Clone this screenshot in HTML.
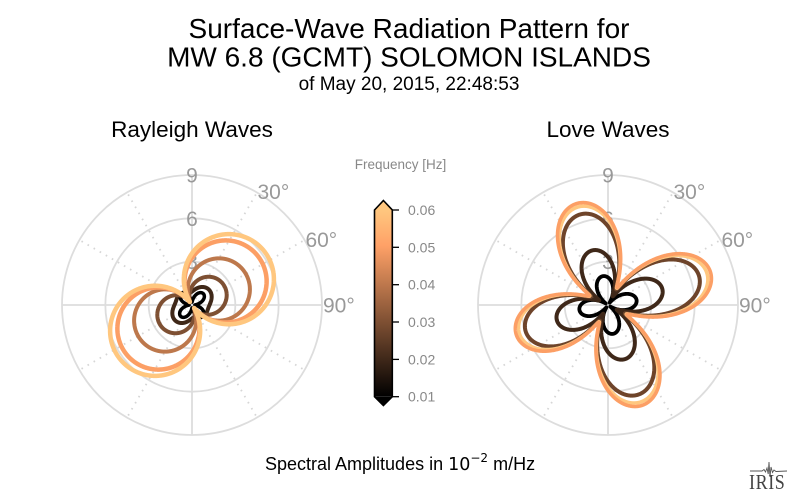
<!DOCTYPE html>
<html>
<head>
<meta charset="utf-8">
<style>
  html,body{margin:0;padding:0;background:#fff;}
  svg{display:block;}
  .s{font-family:"Liberation Sans", Arial, sans-serif;}
</style>
</head>
<body>
<svg id="fig" xmlns="http://www.w3.org/2000/svg" width="800" height="496" viewBox="0 0 800 496">
  <defs>
    <linearGradient id="cmap" x1="0" y1="1" x2="0" y2="0">
      <stop offset="0" stop-color="rgb(0,0,0)"/>
      <stop offset="0.8095" stop-color="rgb(255,161,103)"/>
      <stop offset="1" stop-color="rgb(255,199,127)"/>
    </linearGradient>
  </defs>
  <rect x="0" y="0" width="800" height="496" fill="#fff"/>

  <!-- Titles -->
  <text class="s" x="409" y="38" font-size="28" text-anchor="middle" fill="#000">Surface-Wave Radiation Pattern for</text>
  <text class="s" x="409" y="66.5" font-size="28" text-anchor="middle" fill="#000">MW 6.8 (GCMT) SOLOMON ISLANDS</text>
  <text class="s" x="409" y="90" font-size="19" text-anchor="middle" fill="#000">of May 20, 2015, 22:48:53</text>

  <text class="s" x="192" y="137" font-size="22.5" text-anchor="middle" fill="#000">Rayleigh Waves</text>
  <text class="s" x="608" y="137" font-size="22.5" text-anchor="middle" fill="#000">Love Waves</text>

  <g id="gridL"></g>
  <g id="gridR"></g>
  <g id="curvesL"></g>
  <g id="curvesR"></g>

  <!-- Colorbar -->
  <text class="s" x="400.5" y="169" font-size="13.5" text-anchor="middle" fill="#888">Frequency [Hz]</text>
  <rect x="374.5" y="210" width="17.8" height="186.7" fill="url(#cmap)"/>
  <polygon points="374.5,210 383.4,200.5 392.3,210" fill="rgb(255,199,127)"/>
  <polygon points="374.5,396.7 383.4,405.5 392.3,396.7" fill="#000"/>
  <polygon points="374.5,210 383.4,200.5 392.3,210 392.3,396.7 383.4,405.5 374.5,396.7" fill="none" stroke="#000" stroke-width="1.6" stroke-linejoin="miter"/>
  <g stroke="#000" stroke-width="1.3">
    <line x1="392.3" y1="210" x2="399" y2="210"/>
    <line x1="392.3" y1="247.3" x2="399" y2="247.3"/>
    <line x1="392.3" y1="284.7" x2="399" y2="284.7"/>
    <line x1="392.3" y1="322" x2="399" y2="322"/>
    <line x1="392.3" y1="359.4" x2="399" y2="359.4"/>
    <line x1="392.3" y1="396.7" x2="399" y2="396.7"/>
  </g>
  <g class="s" font-size="14" fill="#888">
    <text class="s" x="408" y="215">0.06</text>
    <text class="s" x="408" y="252.3">0.05</text>
    <text class="s" x="408" y="289.7">0.04</text>
    <text class="s" x="408" y="327">0.03</text>
    <text class="s" x="408" y="364.4">0.02</text>
    <text class="s" x="408" y="401.7">0.01</text>
  </g>

  <!-- Bottom label -->
  <text class="s" x="265" y="470" font-size="18" fill="#000">Spectral Amplitudes in <tspan style="font-family:'DejaVu Sans',sans-serif;font-size:17.5px">10</tspan><tspan style="font-family:'DejaVu Sans',sans-serif;font-size:12px" dy="-8">−2</tspan><tspan dy="8"> m/Hz</tspan></text>

  <!-- IRIS logo -->
  <g stroke="#555" stroke-width="0.9" fill="none">
    <polyline points="750,471 762,471 764,469.5 765.5,472 767,468 768.2,474 769,462 770,477 771,467 772.5,472.5 774,470 776,471.5 787,471"/>
  </g>
  <text x="0" y="0" transform="translate(749,489) scale(1,1.2)" style="font-family:'Liberation Serif',serif;font-size:18px;letter-spacing:0.6px" fill="#444">IRIS</text>
</svg>

<script>
(function(){
  var NS = "http://www.w3.org/2000/svg";
  var CY = 305, R = 130;
  function el(tag, attrs, parent){
    var e = document.createElementNS(NS, tag);
    for (var k in attrs) e.setAttribute(k, attrs[k]);
    parent.appendChild(e);
    return e;
  }
  function deg(a){ return a*Math.PI/180; }
  function grid(cx, g){
    [43.333, 86.667, 130].forEach(function(r){
      el("circle",{cx:cx, cy:CY, r:r, fill:"none", stroke:"#dddddd", "stroke-width":1.8}, g);
    });
    el("line",{x1:cx, y1:CY-R, x2:cx, y2:CY+R, stroke:"#dddddd","stroke-width":1.8}, g);
    el("line",{x1:cx-R, y1:CY, x2:cx+R, y2:CY, stroke:"#dddddd","stroke-width":1.8}, g);
    [30,60,120,150,210,240,300,330].forEach(function(a){
      var t = deg(a);
      el("line",{x1:cx, y1:CY, x2:(cx+R*Math.sin(t)).toFixed(2), y2:(CY-R*Math.cos(t)).toFixed(2),
        stroke:"#d6d6d6","stroke-width":1.8,"stroke-dasharray":"1.6 5.4"}, g);
    });
    var labs = [["9",175],["6",218.33],["3",261.67]];
    labs.forEach(function(l){
      var t = el("text",{"class":"s", x:cx, y:l[1]+7.5, "font-size":21, "text-anchor":"middle", fill:"#999"}, g);
      t.textContent = l[0];
    });
    [[30],[60],[90]].forEach(function(a){
      var t = deg(a[0]);
      var x = cx + (R+1)*Math.sin(t), y = CY - (R+1)*Math.cos(t);
      var tx = el("text",{"class":"s", x:x.toFixed(2), y:(y+7.5).toFixed(2), "font-size":21, fill:"#999"}, g);
      tx.textContent = a[0]+"\u00B0";
    });
  }
  function path(cx, fn, color, w, g){
    var n = 1440, d = "";
    for (var i=0;i<=n;i++){
      var th = i/n*2*Math.PI;
      var r = fn(th);
      var x = cx + r*Math.sin(th), y = CY - r*Math.cos(th);
      d += (i?"L":"M") + x.toFixed(2) + "," + y.toFixed(2);
    }
    d += "Z";
    el("path",{d:d, fill:"none", stroke:color, "stroke-width":w, "stroke-linejoin":"round"}, g);
  }
  function ray(d, td, q, tq, c){
    return function(th){
      var D = d*Math.cos(th-deg(td));
      var Q = q*Math.cos(2*(th-deg(tq)));
      return Math.sqrt(D*D + Q*Q + c*c);
    };
  }
  function love(q, t0, e, te, d, t1){
    return function(th){
      var Q = q*Math.cos(2*(th-deg(t0)))*(1+e*Math.cos(th-deg(te)));
      var D = d*Math.cos(th-deg(t1));
      return Math.sqrt(Q*Q + D*D);
    };
  }
  grid(192, document.getElementById("gridL"));
  grid(608, document.getElementById("gridR"));

  var gL = document.getElementById("curvesL");
  path(192, ray(17, 58, 12, 45, 10), "rgb(63,40,25)", 4, gL);
  path(192, ray(4, 45, 15.5, 45, 0), "rgb(0,0,0)", 3.5, gL);
  path(192, ray(37, 60, 7, 45, 0), "rgb(126,80,51)", 4, gL);
  path(192, ray(62, 60, 5, 45, 0), "rgb(189,120,76)", 4, gL);
  path(192, ray(82, 55, 4, 45, 0), "rgb(252,159,101)", 4.5, gL);
  path(192, ray(90, 55, 4, 45, 0), "rgb(255,199,127)", 4.5, gL);

  var gR = document.getElementById("curvesR");
  path(608, love(29, -10, 0.0, 71, 4, -10), "rgb(0,0,0)", 3.8, gR);
  path(608, love(55, -17, 0.03, 71, 14, -17), "rgb(63,40,25)", 4, gR);
  path(608, love(91, -18, 0.05, 71, 26, -20), "rgb(110,68,42)", 4, gR);
  path(608, love(98.5, -18, 0.055, 71, 28, -20), "rgb(255,199,127)", 3.6, gR);
  path(608, love(102, -18, 0.055, 71, 29, -20), "rgb(252,159,101)", 3.6, gR);
})();
</script>
</body>
</html>
